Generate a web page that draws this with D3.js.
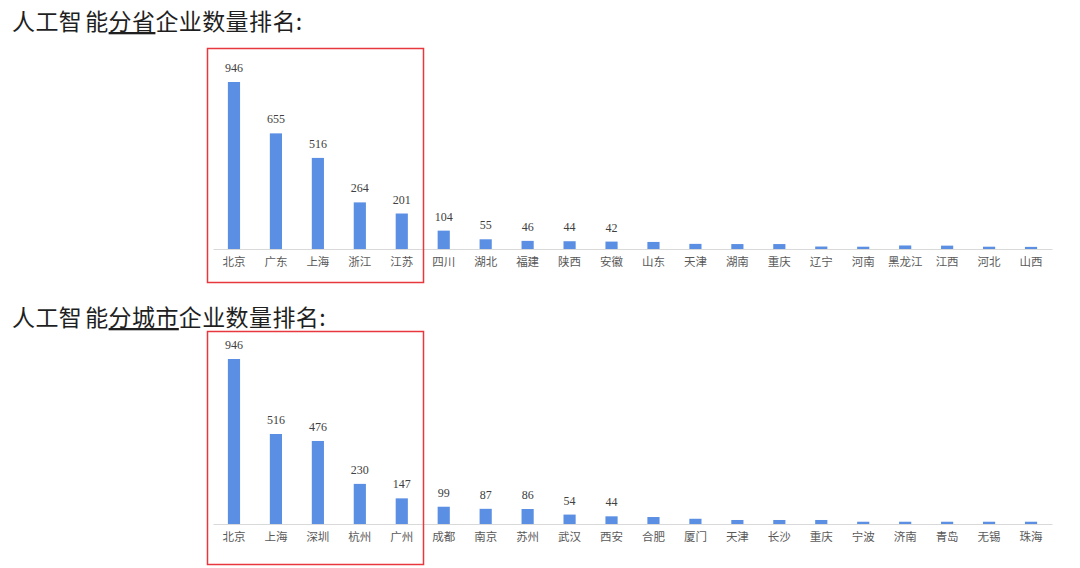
<!DOCTYPE html>
<html><head><meta charset="utf-8">
<script src="https://cdn.jsdelivr.net/npm/d3@7"></script>
<style>
html,body{margin:0;padding:0;background:#fff;}
svg{display:block;}
</style></head>
<body>
<svg id="c" width="1080" height="568"></svg>
<script>
// Data
const provinceCategories = ["北京","广东","上海","浙江","江苏","四川","湖北","福建","陕西","安徽","山东","天津","湖南","重庆","辽宁","河南","黑龙江","江西","河北","山西"];
const provinceValues = [946,655,516,264,201,104,55,46,44,42,40,29,28,28,14,13,20,19,13,12];
const cityCategories = ["北京","上海","深圳","杭州","广州","成都","南京","苏州","武汉","西安","合肥","厦门","天津","长沙","重庆","宁波","济南","青岛","无锡","珠海"];
const cityValues = [946,516,476,230,147,99,87,86,54,44,40,30,23,23,23,13,13,13,13,13];
const labeledCount = 10;
const titleTop = ["人工智", "能", "分省", "企业数量排名:"];
const titleBottom = ["人工智", "能", "分城市", "企业数量排名:"];

const svg = d3.select("#c");
const BAR = "#5b8fe3";

function drawTitle(parts, y){
  const t = svg.append("text").attr("x",12).attr("y",y)
    .attr("font-family","'Noto Sans CJK SC','Noto Sans',sans-serif")
    .attr("font-size",23).attr("letter-spacing",0.4).attr("fill","#1f1f1f");
  parts.forEach((p,i)=>{
    const ts = t.append("tspan").text(p);
    if(i===1) ts.attr("dx",3);
    if(i===2) ts.style("text-decoration","underline");
  });
}

function drawChart(cats, vals, baseY, topY){
  const x = d3.scaleBand().domain(cats).range([213,1052]).paddingInner(0.71).paddingOuter(0.355);
  const y = d3.scaleLinear().domain([0,946]).range([baseY, topY]);
  const g = svg.append("g");
  g.selectAll("rect").data(cats).join("rect")
    .attr("x",d=>x(d)).attr("width",x.bandwidth())
    .attr("y",(d,i)=>y(vals[i])).attr("height",(d,i)=>baseY-y(vals[i]))
    .attr("fill",BAR);
  const axis = d3.axisBottom(x).tickSize(0).tickPadding(9);
  const ag = g.append("g").attr("transform",`translate(0,${baseY})`).call(axis);
  ag.select(".domain").attr("stroke","#d9d9d9").attr("stroke-width",1.2);
  ag.selectAll("text").attr("font-family","'Noto Sans CJK SC',sans-serif").attr("font-size",11.5).attr("fill","#595959");
  g.selectAll("text.v").data(cats.slice(0,labeledCount)).join("text").attr("class","v")
    .attr("x",d=>x(d)+x.bandwidth()/2).attr("y",(d,i)=>y(vals[i])-10)
    .attr("text-anchor","middle").attr("font-family","'Liberation Serif',serif")
    .attr("font-size",12).attr("fill","#404040").text((d,i)=>vals[i]);
}

drawTitle(titleTop, 30);
drawChart(provinceCategories, provinceValues, 249, 82);
drawTitle(titleBottom, 326);
drawChart(cityCategories, cityValues, 524, 359);

// red highlight boxes
svg.append("rect").attr("x",207.5).attr("y",48.5).attr("width",216).attr("height",234)
  .attr("fill","none").attr("stroke","#e8383d").attr("stroke-width",1.5);
svg.append("rect").attr("x",207.5).attr("y",331.5).attr("width",216).attr("height",233)
  .attr("fill","none").attr("stroke","#e8383d").attr("stroke-width",1.5);
</script>
</body></html>
